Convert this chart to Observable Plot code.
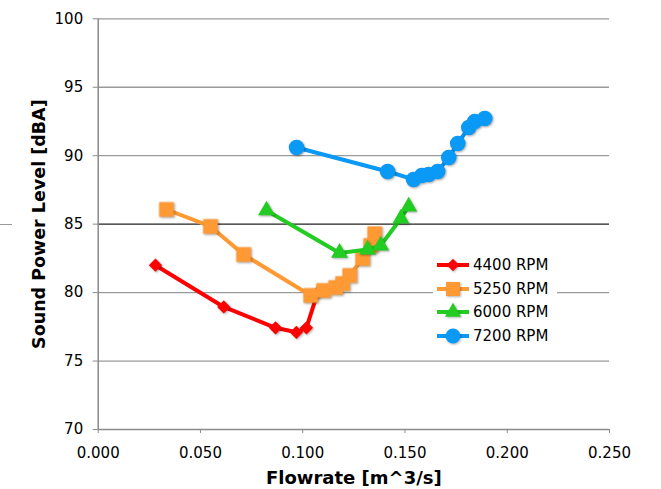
<!DOCTYPE html>
<html>
<head>
<meta charset="utf-8">
<script src="https://cdn.jsdelivr.net/npm/d3@7"></script>
<script src="https://cdn.jsdelivr.net/npm/@observablehq/plot@0.6"></script>
<style>
  html, body { margin: 0; padding: 0; background: #fff; }
  #wrap { position: relative; width: 661px; height: 489px; font-family: "DejaVu Sans", Verdana, sans-serif; }
  #wrap svg g[aria-label="dot"] { filter: drop-shadow(1.5px 1.5px 1px rgba(0,0,0,0.35)); }
  #legend { position: absolute; left: 433px; top: 252px; width: 124px; height: 98px; background: #fff; }
  .row { position: absolute; left: 0; height: 20px; display: flex; align-items: center; font-size: 15px; color: #000; }
  .row svg { margin-left: 4px; margin-right: 4px; }
  #stray { position: absolute; left: 0; top: 224px; width: 12px; height: 0; border-top: 1px solid #999; }
</style>
</head>
<body>
<div id="wrap"><div id="stray"></div></div>
<script>
// ---- data ----
const seriesNames = ["4400 RPM", "5250 RPM", "6000 RPM", "7200 RPM"];
const seriesColors = ["#ff0000", "#ff9933", "#22cc22", "#0a99f5"];
const seriesSymbols = ["diamond", "square", "triangle", "circle"];

const flow4400 = [0.028, 0.0614, 0.0867, 0.0969, 0.1018, 0.1073];
const spl4400  = [82.0, 78.95, 77.43, 77.1, 77.43, 80.0];

const flow5250 = [0.0334, 0.0549, 0.0711, 0.1039, 0.1102, 0.1161, 0.1195, 0.123, 0.1293, 0.1332, 0.1352];
const spl5250  = [86.07, 84.83, 82.78, 79.79, 80.15, 80.37, 80.66, 81.25, 82.49, 83.44, 84.3];

const flow6000 = [0.0823, 0.118, 0.1317, 0.1381, 0.148, 0.1518];
const spl6000  = [86.0, 82.9, 83.15, 83.44, 85.41, 86.29];

const flow7200 = [0.097, 0.1415, 0.1542, 0.1582, 0.1616, 0.166, 0.1714, 0.1758, 0.1812, 0.1841, 0.189];
const spl7200  = [90.6, 88.85, 88.26, 88.55, 88.63, 88.85, 89.87, 90.89, 92.06, 92.5, 92.72];

const xTicks = [0, 0.05, 0.1, 0.15, 0.2, 0.25];
const yTicks = [70, 75, 80, 85, 90, 95, 100];
const xTitle = "Flowrate [m^3/s]";
const yTitle = "Sound Power Level [dBA]";

// ---- build ----
const flows = [flow4400, flow5250, flow6000, flow7200];
const spls = [spl4400, spl5250, spl6000, spl7200];

const diamondSym = {
  draw(ctx, size) {
    const r = Math.sqrt(size / 2);
    ctx.moveTo(0, -r); ctx.lineTo(r, 0); ctx.lineTo(0, r); ctx.lineTo(-r, 0); ctx.closePath();
  }
};
const symFor = s => s === "diamond" ? diamondSym : s;
const sizeFor = {diamond: 5.3, square: 8.3, triangle: 6.3, circle: 7.8};

const seriesMarks = [];
seriesNames.forEach((name, i) => {
  const rows = flows[i].map((f, j) => ({flow: f, spl: spls[i][j]}));
  seriesMarks.push(Plot.line(rows, {x: "flow", y: "spl", stroke: seriesColors[i], strokeWidth: 4, strokeLinejoin: "round"}));
  seriesMarks.push(Plot.dot(rows, {x: "flow", y: "spl", fill: seriesColors[i], stroke: "none", symbol: symFor(seriesSymbols[i]), r: sizeFor[seriesSymbols[i]]}));
});

const chart = Plot.plot({
  width: 661,
  height: 489,
  marginLeft: 97.7,
  marginRight: 52,
  marginTop: 18.3,
  marginBottom: 60,
  x: {domain: [0, 0.25]},
  y: {domain: [70, 100]},
  style: {fontFamily: "DejaVu Sans, Verdana, sans-serif", fontSize: "15px", background: "#fff", color: "#000"},
  marks: [
    Plot.ruleY(yTicks.filter(d => d !== 70 && d !== 85), {stroke: "#9a9a9a", strokeWidth: 1.3}),
    Plot.ruleY(yTicks.filter(d => d === 85), {stroke: "#222", strokeWidth: 1.3}),
    Plot.ruleY(yTicks.filter(d => d === 70), {stroke: "#8a8a8a", strokeWidth: 1.5}),
    Plot.ruleX(xTicks.filter(d => d === 0), {stroke: "#8a8a8a", strokeWidth: 1.5}),
    Plot.axisX(xTicks, {tickFormat: d3.format(".3f"), tickSize: 4, tickPadding: 14, stroke: "#8a8a8a", fill: "#000", label: null}),
    Plot.axisY(yTicks, {tickSize: 5, tickPadding: 10, stroke: "#8a8a8a", fill: "#000", label: null}),
    Plot.text([xTitle], {frameAnchor: "bottom", dy: 49, textAnchor: "middle", lineAnchor: "middle", fontWeight: "bold", fontSize: 18, fill: "#000"}),
    Plot.text([yTitle], {frameAnchor: "left", dx: -58.7, textAnchor: "middle", lineAnchor: "middle", rotate: -90, fontWeight: "bold", fontSize: 17.5, fill: "#000"}),
    ...seriesMarks
  ]
});

const wrap = document.getElementById("wrap");
wrap.appendChild(chart);

// ---- legend (inside plot area, white box) ----
const legend = document.createElement("div");
legend.id = "legend";
const rowTops = [3, 27, 50, 74];
seriesNames.forEach((name, i) => {
  const row = document.createElement("div");
  row.className = "row";
  row.style.top = rowTops[i] + "px";
  const svg = d3.create("svg").attr("width", 32).attr("height", 20);
  svg.append("line").attr("x1", 0).attr("x2", 32).attr("y1", 10).attr("y2", 10)
     .attr("stroke", seriesColors[i]).attr("stroke-width", 4);
  const sym = symFor(seriesSymbols[i]);
  const r = sizeFor[seriesSymbols[i]] * 0.95;
  const symbolObj = typeof sym === "string" ? ({square: d3.symbolSquare, triangle: d3.symbolTriangle, circle: d3.symbolCircle})[sym] : sym;
  svg.append("path").attr("d", d3.symbol(symbolObj, Math.PI * r * r)())
     .attr("transform", "translate(16,10)").attr("fill", seriesColors[i])
     .style("filter", "drop-shadow(1px 1px 0.8px rgba(0,0,0,0.3))");
  row.appendChild(svg.node());
  const span = document.createElement("span");
  span.textContent = name;
  row.appendChild(span);
  legend.appendChild(row);
});
wrap.appendChild(legend);
</script>
</body>
</html>
